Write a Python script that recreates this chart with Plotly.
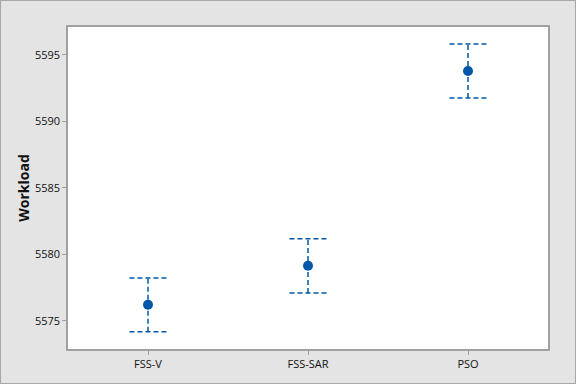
import plotly.graph_objects as go

categories = ["FSS-V", "FSS-SAR", "PSO"]
means = [5576.2, 5579.13, 5593.77]
upper = [5578.21, 5581.16, 5595.80]
lower = [5574.17, 5577.08, 5591.74]
y_ticks = [5575, 5580, 5585, 5590, 5595]

BLUE = "#0057A8"
CAP_HALF = 0.116
DASH = "5px,3px"

fig = go.Figure()
positions = list(range(len(categories)))

for i, (m, u, l) in enumerate(zip(means, upper, lower)):
    fig.add_trace(go.Scatter(x=[i, i], y=[l, u], mode="lines",
                             line=dict(color=BLUE, width=1.5, dash=DASH),
                             hoverinfo="skip", showlegend=False))
    for v in (u, l):
        fig.add_trace(go.Scatter(x=[i - CAP_HALF, i + CAP_HALF], y=[v, v], mode="lines",
                                 line=dict(color=BLUE, width=1.5, dash=DASH),
                                 hoverinfo="skip", showlegend=False))

fig.add_trace(go.Scatter(x=positions, y=means, mode="markers",
                         marker=dict(color=BLUE, size=10, symbol="circle"),
                         showlegend=False))

fig.update_layout(
    width=576, height=384,
    margin=dict(l=68, r=28, t=27, b=35),
    paper_bgcolor="#E4E4E4",
    plot_bgcolor="white",
    font=dict(family="Open Sans, Noto Sans, sans-serif", size=11, color="#111111"),
)

fig.update_xaxes(range=[-0.5, 2.5], tickvals=positions, ticktext=categories,
                 showgrid=False, zeroline=False, showline=True, mirror=True,
                 linecolor="#A0A0A0", linewidth=1.5,
                 ticks="outside", ticklen=4, tickcolor="#A0A0A0")
fig.update_yaxes(range=[5572.87, 5597.08], tickvals=y_ticks,
                 showgrid=False, zeroline=False, showline=True, mirror=True,
                 linecolor="#A0A0A0", linewidth=1.5,
                 ticks="outside", ticklen=4, tickcolor="#A0A0A0",
                 title=dict(text="<b>Workload</b>", font=dict(size=14), standoff=2))

# outer figure border
fig.add_shape(type="rect", xref="paper", yref="paper",
              x0=-68/480, y0=-35/322, x1=1 + 28/480, y1=1 + 27/322,
              line=dict(color="#A8A8A8", width=2), fillcolor="rgba(0,0,0,0)", layer="below")

fig.write_html("out.html", config={"displayModeBar": False},
               post_script="document.body.style.margin='0px';")
